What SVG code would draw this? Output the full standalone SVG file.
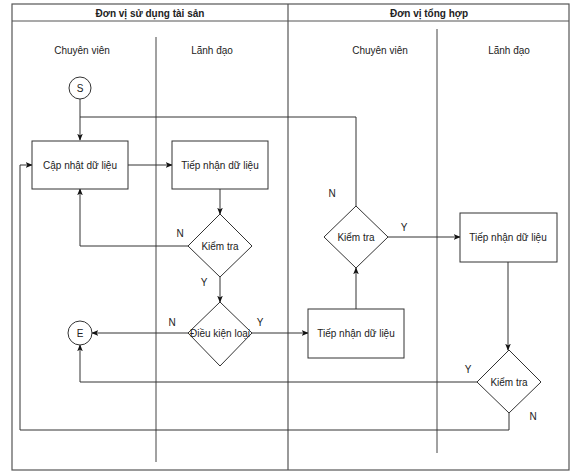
<svg xmlns="http://www.w3.org/2000/svg" width="576" height="476" viewBox="0 0 576 476">
<style>
text{font-family:"Liberation Sans",Arial,sans-serif;font-size:10px;fill:#222;text-anchor:middle;dominant-baseline:central}
.h{font-weight:bold}
.frame{fill:none;stroke:#555;stroke-width:1.2}
.lane{stroke:#444;stroke-width:1}
.box{fill:#fff;stroke:#333;stroke-width:1}
.e{fill:none;stroke:#333;stroke-width:1}
</style>
<defs>
<marker id="a" viewBox="0 0 10 10" refX="9" refY="5" markerWidth="7" markerHeight="7" orient="auto" markerUnits="userSpaceOnUse"><path d="M0,1 L10,5 L0,9 L2.5,5 Z" fill="#111"/></marker>
</defs>
<rect width="576" height="476" fill="#fff"/>
<g id="pools">
<rect class="frame" x="12" y="4" width="557" height="466"/>
<line class="frame" x1="12" y1="21" x2="569" y2="21"/>
<line class="frame" x1="288" y1="4" x2="288" y2="470"/>
<line class="lane" x1="156" y1="37" x2="156" y2="462"/>
<line class="lane" x1="437" y1="29" x2="437" y2="453"/>
<text class="h" x="150" y="13">Đơn vị sử dụng tài sản</text>
<text class="h" x="429" y="13">Đơn vị tổng hợp</text>
<text x="82" y="50">Chuyên viên</text>
<text x="212" y="50">Lãnh đạo</text>
<text x="380" y="50">Chuyên viên</text>
<text x="509" y="50">Lãnh đạo</text>
</g>
<g id="connectors">
<path class="e" d="M80,99 V140" marker-end="url(#a)"/>
<path class="e" d="M356,206 V117 H80"/>
<path class="e" d="M128,165 H172" marker-end="url(#a)"/>
<path class="e" d="M220,189 V214" marker-end="url(#a)"/>
<path class="e" d="M188,246 H80 V189" marker-end="url(#a)"/>
<path class="e" d="M220,277 V302" marker-end="url(#a)"/>
<path class="e" d="M188,333 H92" marker-end="url(#a)"/>
<path class="e" d="M252,333 H308" marker-end="url(#a)"/>
<path class="e" d="M356,309 V268" marker-end="url(#a)"/>
<path class="e" d="M388,237 H460" marker-end="url(#a)"/>
<path class="e" d="M508,262 V350" marker-end="url(#a)"/>
<path class="e" d="M477,382 H80 V345" marker-end="url(#a)"/>
<path class="e" d="M509,413 V430 H20 V165 H32" marker-end="url(#a)"/>
<text x="180" y="233">N</text>
<text x="204" y="282">Y</text>
<text x="172" y="322">N</text>
<text x="260" y="322">Y</text>
<text x="332" y="193">N</text>
<text x="404" y="227">Y</text>
<text x="468" y="369">Y</text>
<text x="533" y="416">N</text>
</g>
<g id="start"><circle class="box" cx="80" cy="88" r="11"/><text x="80" y="88">S</text></g>
<g id="end"><circle class="box" cx="80" cy="333" r="12"/><text x="80" y="333">E</text></g>
<g id="capnhat"><rect class="box" x="32" y="141" width="96" height="48"/><text x="80" y="165">Cập nhật dữ liệu</text></g>
<g id="tiepnhan1"><rect class="box" x="172" y="141" width="96" height="48"/><text x="220" y="165">Tiếp nhận dữ liệu</text></g>
<g id="kiemtra1"><polygon class="box" points="220,214 252,246 220,277 188,246"/><text x="220" y="246">Kiểm tra</text></g>
<g id="dieukien"><polygon class="box" points="220,302 252,333 220,366 188,333"/><text x="220" y="333">Điều kiện loại</text></g>
<g id="tiepnhan2"><rect class="box" x="308" y="309" width="96" height="49"/><text x="356" y="333">Tiếp nhận dữ liệu</text></g>
<g id="kiemtra2"><polygon class="box" points="356,206 388,237 356,268 324,237"/><text x="356" y="237">Kiểm tra</text></g>
<g id="tiepnhan3"><rect class="box" x="460" y="213" width="97" height="49"/><text x="508" y="237">Tiếp nhận dữ liệu</text></g>
<g id="kiemtra3"><polygon class="box" points="509,350 541,382 509,413 477,382"/><text x="509" y="382">Kiểm tra</text></g>
</svg>
